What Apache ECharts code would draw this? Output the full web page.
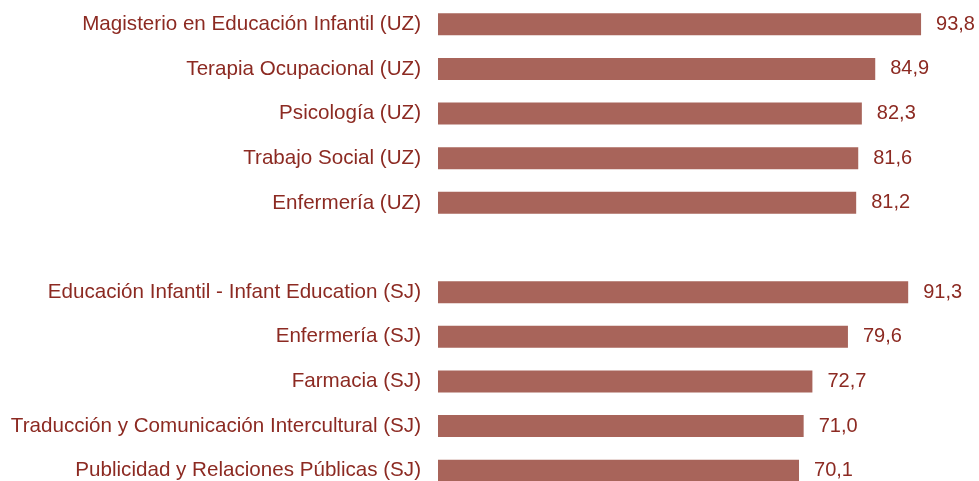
<!DOCTYPE html>
<html>
<head>
<meta charset="utf-8">
<script src="https://cdn.jsdelivr.net/npm/echarts@6/dist/echarts.min.js"></script>
<style>
  html, body { margin: 0; padding: 0; background: #fff; }
  #chart { width: 979px; height: 481px; }
</style>
</head>
<body>
<div id="chart"></div>
<script>
// titulaciones (hueco vacío entre UZ y SJ)
const categories = [
  "Magisterio en Educación Infantil (UZ)",
  "Terapia Ocupacional (UZ)",
  "Psicología (UZ)",
  "Trabajo Social (UZ)",
  "Enfermería (UZ)",
  "",
  "Educación Infantil - Infant Education (SJ)",
  "Enfermería (SJ)",
  "Farmacia (SJ)",
  "Traducción y Comunicación Intercultural (SJ)",
  "Publicidad y Relaciones Públicas (SJ)"
];
const values = [93.8, 84.9, 82.3, 81.6, 81.2, "-", 91.3, 79.6, 72.7, 71.0, 70.1];

const textColor = "#8c2a22";
const barColor = "#a8645a";

const myChart = echarts.init(document.getElementById("chart"));
myChart.setOption({
  animation: false,
  grid: {
    left: 438,
    top: 2,
    width: 515,
    height: 491,
    outerBoundsMode: "none"
  },
  xAxis: {
    type: "value",
    min: 0,
    max: 100,
    show: false
  },
  yAxis: {
    type: "category",
    data: categories,
    inverse: true,
    axisLine: { show: false },
    axisTick: { show: false },
    axisLabel: {
      color: textColor,
      fontSize: 20.6,
      fontFamily: "Liberation Sans, Arial, sans-serif",
      margin: 17
    }
  },
  series: [
    {
      type: "bar",
      data: values,
      barWidth: 22,
      itemStyle: { color: barColor },
      label: {
        show: true,
        position: "right",
        distance: 15,
        color: textColor,
        fontSize: 20,
        fontFamily: "Liberation Sans, Arial, sans-serif",
        formatter: (p) => p.value.toFixed(1).replace(".", ",")
      }
    }
  ]
});
</script>
</body>
</html>
